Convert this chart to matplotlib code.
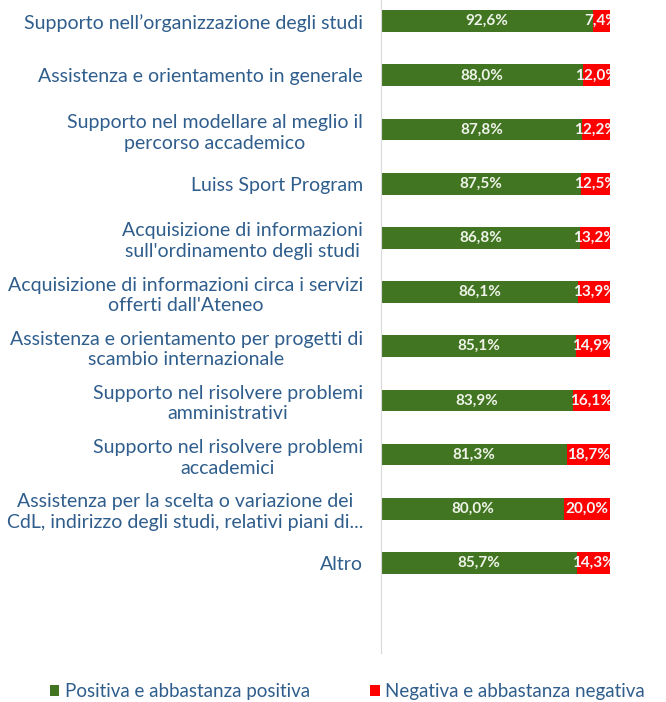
import matplotlib.pyplot as plt

# valutazioni dei servizi, dall'alto verso il basso
services = [
    'Supporto nell\u2019organizzazione degli studi',
    'Assistenza e orientamento in generale',
    'Supporto nel modellare al meglio il\npercorso accademico',
    'Luiss Sport Program',
    'Acquisizione di informazioni\nsull\'ordinamento degli studi',
    'Acquisizione di informazioni circa i servizi\nofferti dall\'Ateneo',
    'Assistenza e orientamento per progetti di\nscambio internazionale',
    'Supporto nel risolvere problemi\namministrativi',
    'Supporto nel risolvere problemi\naccademici',
    'Assistenza per la scelta o variazione dei\nCdL, indirizzo degli studi, relativi piani di...',
    'Altro',
]
positive = [92.6, 88.0, 87.8, 87.5, 86.8, 86.1, 85.1, 83.9, 81.3, 80.0, 85.7]
negative = [7.4, 12.0, 12.2, 12.5, 13.2, 13.9, 14.9, 16.1, 18.7, 20.0, 14.3]

GREEN = '#417522'
RED = '#ff0000'
TEXT = '#2f5d8c'

plt.rcParams['font.family'] = ['Lato', 'DejaVu Sans']

fig = plt.figure(figsize=(6.66, 7.02), dpi=100)
ax = fig.add_axes([381 / 666, 1 - 653 / 702, 229 / 666, 653 / 702])

y = list(range(len(services)))
h = 0.4
ax.barh(y, positive, height=h, color=GREEN, label='Positiva e abbastanza positiva')
ax.barh(y, negative, left=positive, height=h, color=RED,
        label='Negativa e abbastanza negativa')


def fmt(v):
    return f'{v:.1f}'.replace('.', ',') + '%'


for i, (p, n) in enumerate(zip(positive, negative)):
    ax.text(p / 2, i, fmt(p), ha='center', va='center', color='#eef3e8',
            fontsize=11, fontweight='bold')
    ax.text(p + n / 2, i, fmt(n), ha='center', va='center', color='#f4f4f4',
            fontsize=11, fontweight='bold', clip_on=True)

ax.set_xlim(0, 100)
ax.set_ylim(11.66, -0.39)
ax.set_yticks(y)
ax.set_yticklabels(services, fontsize=14, color=TEXT, multialignment='center',
                   linespacing=1.25)
ax.tick_params(axis='y', length=0, pad=13)
ax.set_xticks([])
for side in ['top', 'right', 'bottom']:
    ax.spines[side].set_visible(False)
ax.spines['left'].set_color('#d9d9d9')

fig.legend(loc='lower left', bbox_to_anchor=(50 / 666, 0.003), ncol=2,
           frameon=False, borderpad=0, borderaxespad=0,
           fontsize=13.5, labelcolor=TEXT, handlelength=0.5, handleheight=0.5,
           handletextpad=0.3, columnspacing=3.2)

fig.savefig('out.png', dpi=100)
